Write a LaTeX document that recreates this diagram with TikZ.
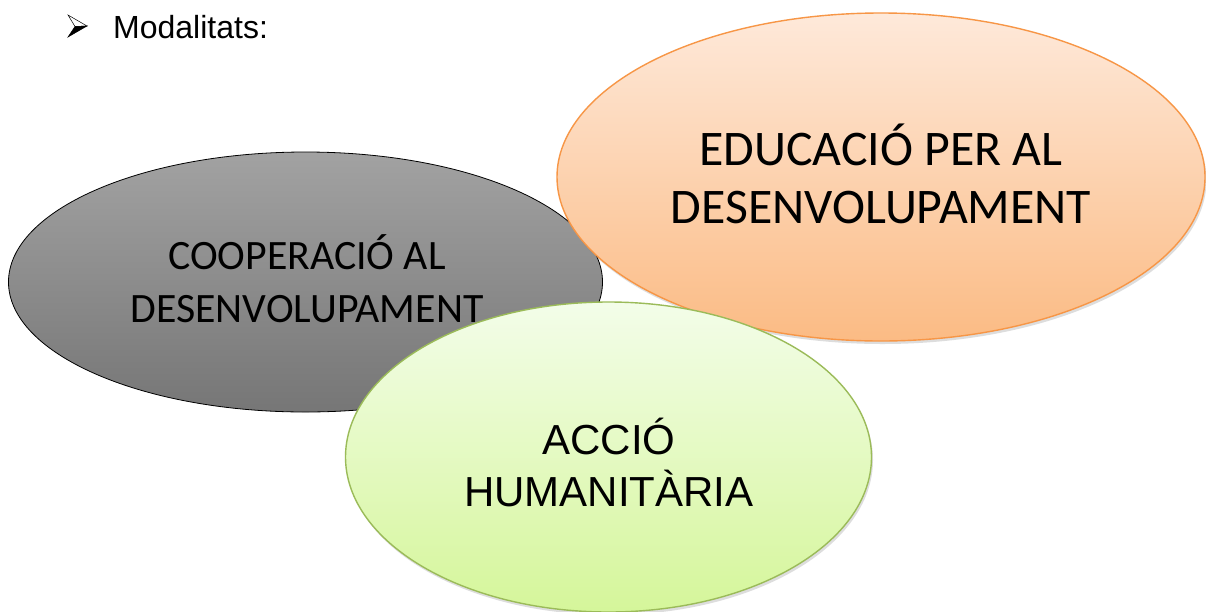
\documentclass[tikz,border=0pt]{standalone}
\usepackage{fontspec}
\setmainfont{Carlito}
\newfontfamily\arialfont{Liberation Sans}
\usetikzlibrary{shapes.geometric,shadows}
\definecolor{grayTop}{HTML}{A2A2A2}
\definecolor{grayBot}{HTML}{767676}
\definecolor{orTop}{HTML}{FEE9DA}
\definecolor{orBot}{HTML}{FBBB84}
\definecolor{orLine}{HTML}{F79646}
\definecolor{grTop}{HTML}{F3FDE9}
\definecolor{grBot}{HTML}{D5F69A}
\definecolor{grLine}{HTML}{9BBB59}
\begin{document}
\begin{tikzpicture}[x=1pt,y=-1pt,
  blob/.style={ellipse, inner sep=0pt, draw},
  softshadow/.style={drop shadow={shadow xshift=1.5pt, shadow yshift=-3pt, opacity=0.22, fill=black!60}},
  calib/.style={font=\fontsize{#1}{#1}\selectfont, anchor=base, inner sep=0pt, text=black},
  arialtxt/.style={font=\arialfont\fontsize{#1}{#1}\selectfont, anchor=base, inner sep=0pt, text=black}]
\useasboundingbox (0,0) rectangle (1206,611);
\fill[white] (0,0) rectangle (1206,611);
% bullet
\coordinate (btip) at (87,26);
\coordinate (btl) at (68,15);
\coordinate (bnotch) at (75,26.5);
\coordinate (bbl) at (68,37);
\filldraw[fill=white, draw=black, line width=0.5pt, line join=miter] (btip) -- (btl) -- (bnotch) -- cycle;
\filldraw[fill=black, draw=black, line width=0.5pt, line join=miter] (btip) -- (bnotch) -- (bbl) -- cycle;
\node[arialtxt=32, anchor=base west] (title) at (113,38) {Modalitats:};
% ellipses
\node[blob, draw=black, line width=0.8pt, top color=grayTop, bottom color=grayBot,
      minimum width=594pt, minimum height=260pt] (coop) at (305.5,282) {};
\node[blob, softshadow, draw=orLine, line width=1.4pt, top color=orTop, bottom color=orBot,
      minimum width=648pt, minimum height=328pt] (edu) at (881,177) {};
\node[blob, softshadow, draw=grLine, line width=1.4pt, top color=grTop, bottom color=grBot,
      minimum width=526pt, minimum height=310pt] (acc) at (608.5,457) {};
% texts
\node[calib=41.8] (coop1) at (307,269) {COOPERACIÓ AL};
\node[calib=41.8] (coop2) at (307,322) {DESENVOLUPAMENT};
\node[calib=49.8] (edu1) at (881,165) {EDUCACIÓ PER AL};
\node[calib=49.8] (edu2) at (881,223) {DESENVOLUPAMENT};
\node[arialtxt=42] (acc1) at (609,454) {ACCIÓ};
\node[arialtxt=42] (acc2) at (609,506) {HUMANITÀRIA};
\end{tikzpicture}
\end{document}
